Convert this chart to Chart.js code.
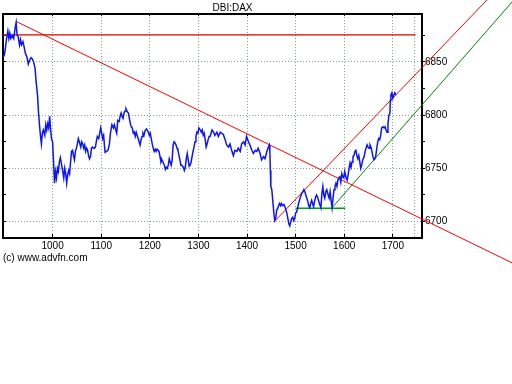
<!DOCTYPE html>
<html><head><meta charset="utf-8">
<script src="https://cdn.jsdelivr.net/npm/chart.js@4/dist/chart.umd.min.js"></script>
<style>html,body{margin:0;padding:0;background:#fff;}#wrap{width:512px;height:266px;}</style>
</head><body><div id="wrap"><canvas id="c" width="512" height="266"></canvas></div>
<script>
const days = [898,901,903,905,908,910,912,914,917,920,923,925,927,929,932,934,936,939,942,944,947,950,953,956,958,961,964,966,969,971,973,975,977,979,981,984,986,988,990,992,994,996,998,1000,1002,1004,1006,1008,1010,1012,1014,1016,1018,1021,1023,1025,1027,1029,1031,1033,1035,1037,1039,1041,1043,1045,1047,1049,1051,1053,1055,1058,1060,1062,1064,1066,1068,1070,1072,1074,1076,1078,1080,1082,1084,1086,1088,1090,1092,1095,1097,1099,1101,1103,1105,
1108,1114,1117,1119,1122,1125,1127,1130,1132,1134,1137,1139,1141,1143,1145,1147,1149,1151,1154,1156,1158,1160,1162,1164,1166,1168,1170,1172,1174,1176,1178,1180,1182,1184,1186,1188,1190,1193,1195,1197,1199,1201,1203,1205,1207,1209,1211,1213,1215,1217,1219,1221,1223,1225,1227,1230,1232,1234,1236,1238,1240,1242,1244,1246,1248,1250,1252,1254,1256,1258,1260,1262,1264,1266,1269,1271,1273,1275,1277,1279,1281,1283,1285,1287,1289,1291,1293,1295,1297,1299,1301,1304,1306,1308,1310,1312,1314,1316,1318,1320,1322,
1324,1328,1331,1334,1338,1341,1345,1348,1351,1355,1358,1362,1365,1369,1372,1375,1379,1382,1386,1389,1393,1396,1399,1403,1406,1410,1413,1417,1420,1423,1427,1430,1434,1437,1441,1444,1446,1447,1448,1449,1451,1453,1455,1457,1459,1461,1463,1465,1467,1469,1471,1473,1476,1478,1480,1482,1484,1486,1488,1490,1492,1494,1496,1498,1500,1502,1504,1506,1508,1510,1512,1515,1517,1519,1521,1523,1525,1527,1529,1531,1533,1535,1537,1539,1541,
1543,1545,1549,1552,1554,1556,1558,1560,1562,1564,1567,1569,1571,1573,1575,1577,1579,1581,1583,1585,1587,1589,1591,1593,1595,1597,1599,1601,1604,1606,1608,1610,1612,1614,1616,1618,1620,1622,1624,1626,1628,1630,1632,1634,1636,1638,1641,1643,1645,1647,1649,1651,1653,1655,1657,1659,1661,1663,1665,1667,1669,1671,1673,1675,1677,1680,1682,1684,1686,1688,1690,1692,1694,1695,1696,1698,1700,1702,1704,1706];
const prices = [6854,6857,6863,6871,6879,6872,6877,6872,6875,6872,6882,6887,6875,6874,6866,6871,6866,6869,6863,6858,6855,6848,6852,6854,6853,6850,6844,6832,6819,6803,6791,6781,6773,6783,6786,6781,6791,6786,6792,6788,6799,6786,6777,6775,6756,6736,6747,6741,6750,6747,6756,6760,6755,6747,6741,6750,6745,6736,6744,6748,6745,6756,6766,6767,6762,6758,6766,6769,6773,6778,6775,6770,6775,6773,6769,6772,6766,6769,6767,6762,6759,6761,6769,6770,6769,6769,6770,6775,6780,6778,6783,6788,6783,6778,6781,
6765,6767,6773,6783,6791,6788,6791,6786,6783,6795,6794,6799,6802,6799,6797,6802,6804,6806,6803,6802,6797,6792,6789,6788,6783,6784,6780,6784,6781,6778,6775,6772,6777,6780,6783,6781,6785,6787,6786,6784,6781,6783,6778,6773,6769,6766,6768,6766,6768,6767,6766,6761,6756,6758,6756,6753,6749,6751,6750,6753,6759,6756,6753,6758,6772,6775,6774,6772,6769,6767,6762,6758,6753,6753,6751,6748,6751,6759,6764,6758,6752,6753,6756,6761,6766,6770,6775,6780,6784,6783,6788,6786,6784,6786,6781,6783,6777,6770,6773,6777,6780,
6780,6786,6784,6781,6784,6780,6784,6783,6782,6777,6772,6770,6773,6766,6762,6767,6766,6769,6766,6773,6775,6772,6780,6775,6772,6767,6764,6767,6766,6769,6764,6758,6761,6759,6766,6770,6772,6766,6748,6733,6730,6720,6709,6701,6703,6711,6712,6715,6717,6715,6717,6715,6716,6714,6711,6708,6703,6698,6696,6700,6703,6704,6701,6703,6708,6709,6712,6717,6720,6723,6726,6728,6730,6728,6725,6722,6719,6715,6713,6717,6720,6717,6714,6719,6723,
6725,6723,6717,6713,6726,6733,6725,6722,6728,6730,6725,6722,6728,6720,6713,6722,6730,6733,6736,6733,6739,6741,6742,6737,6745,6742,6741,6747,6741,6739,6744,6750,6755,6751,6756,6761,6762,6766,6767,6762,6759,6762,6756,6750,6753,6758,6761,6766,6769,6772,6770,6769,6772,6770,6766,6761,6758,6759,6762,6769,6775,6778,6777,6781,6788,6789,6788,6789,6786,6784,6792,6800,6802,6814,6819,6821,6816,6819,6821,6819];

const xTickValues = [1000,1100,1200,1300,1400,1500,1600,1700];
const extraGridDay = 1745;
const yTickValues = [6700,6725,6750,6775,6800,6825,6850,6875];
const xRange = [898, 1760];
const yRange = [6684.6, 6895];

const topLineDays = [898, 1747];
const topLinePrices = [6875.4, 6875.4];
const downTrendDays = [925, 1960];
const downTrendPrices = [6888, 6658];
const upperChannelDays = [1456, 1950];
const upperChannelPrices = [6700, 6935];
const lowerChannelDays = [1574, 1980];
const lowerChannelPrices = [6712.5, 6924.4];
const supportDays = [1500, 1602];
const supportPrices = [6712.5, 6712.5];

const pts = (xs, ys) => xs.map((x, i) => ({x: x, y: ys[i]}));
const FONT = {family: "'Liberation Sans', Arial, sans-serif", size: 10, weight: 'normal'};
const GRID = 'rgba(110,140,140,0.85)';
const NONE = 'rgba(0,0,0,0)';

function lineDs(xs, ys, color, width, clip) {
  return {data: pts(xs, ys), borderColor: color, borderWidth: width, pointRadius: 0,
    tension: 0, fill: false, clip: clip ? undefined : false, xAxisID: 'x', yAxisID: 'y'};
}

new Chart(document.getElementById('c'), {
  type: 'line',
  data: {datasets: [
    lineDs(days, prices, '#0a14ff', 1.5, true),
    lineDs(topLineDays, topLinePrices, '#e00000', 1.2, true),
    lineDs(downTrendDays, downTrendPrices, '#ff0000', 1, false),
    lineDs(upperChannelDays, upperChannelPrices, '#ff0000', 1, false),
    lineDs(lowerChannelDays, lowerChannelPrices, '#008a00', 1, false),
    lineDs(supportDays, supportPrices, '#00a000', 1.6, true)
  ]},
  options: {
    responsive: false, animation: false, devicePixelRatio: 1,
    layout: {padding: {left: 3, right: 50, top: 0, bottom: 0}},
    plugins: {
      legend: {display: false}, tooltip: {enabled: false},
      title: {display: true, text: 'DBI:DAX', color: '#000', font: FONT, padding: {top: 2, bottom: 0}},
      subtitle: {display: true, text: '(c) www.advfn.com', position: 'bottom', align: 'start',
        color: '#000', font: FONT, padding: {top: 0, bottom: 2}}
    },
    scales: {
      x: {type: 'linear', position: 'bottom', min: xRange[0], max: xRange[1],
        afterBuildTicks: s => { s.ticks = xTickValues.concat([extraGridDay]).map(v => ({value: v})); },
        afterFit: s => { s.height = 14; },
        ticks: {autoSkip: false, maxRotation: 0, padding: 6, color: '#000', font: FONT,
          callback: v => xTickValues.includes(v) ? String(v) : ''},
        grid: {color: GRID, lineWidth: 1, drawTicks: true, tickLength: -4,
          tickColor: c => (c.tick && xTickValues.includes(c.tick.value)) ? '#000' : NONE},
        border: {display: true, color: '#000', width: 2, dash: [1, 2]}
      },
      xTop: {type: 'linear', position: 'top', min: xRange[0], max: xRange[1],
        afterBuildTicks: s => { s.ticks = xTickValues.map(v => ({value: v})); },
        afterFit: s => { s.height = 0; },
        ticks: {display: false},
        grid: {display: true, drawOnChartArea: false, drawTicks: true, tickLength: -2, tickColor: '#000'},
        border: {display: true, color: '#000', width: 2}
      },
      y: {type: 'linear', position: 'right', min: yRange[0], max: yRange[1],
        afterBuildTicks: s => { s.ticks = yTickValues.map(v => ({value: v})); },
        afterFit: s => { s.width = 40; },
        ticks: {autoSkip: false, padding: 0, color: '#000', font: FONT,
          callback: v => (v % 50 === 0) ? String(v) : ''},
        grid: {color: c => (c.tick && c.tick.value % 50 === 0) ? GRID : NONE,
          tickColor: '#000', tickLength: 3, drawTicks: true, lineWidth: 1},
        border: {display: true, color: '#000', width: 2, dash: [1, 2]}
      },
      yLeft: {type: 'linear', position: 'left', min: yRange[0], max: yRange[1],
        afterBuildTicks: s => { s.ticks = yTickValues.map(v => ({value: v})); },
        afterFit: s => { s.width = 0; },
        ticks: {display: false},
        grid: {display: true, drawOnChartArea: false, drawTicks: true, tickLength: -3, tickColor: '#000'},
        border: {display: true, color: '#000', width: 2}
      }
    }
  }
});
</script></body></html>
